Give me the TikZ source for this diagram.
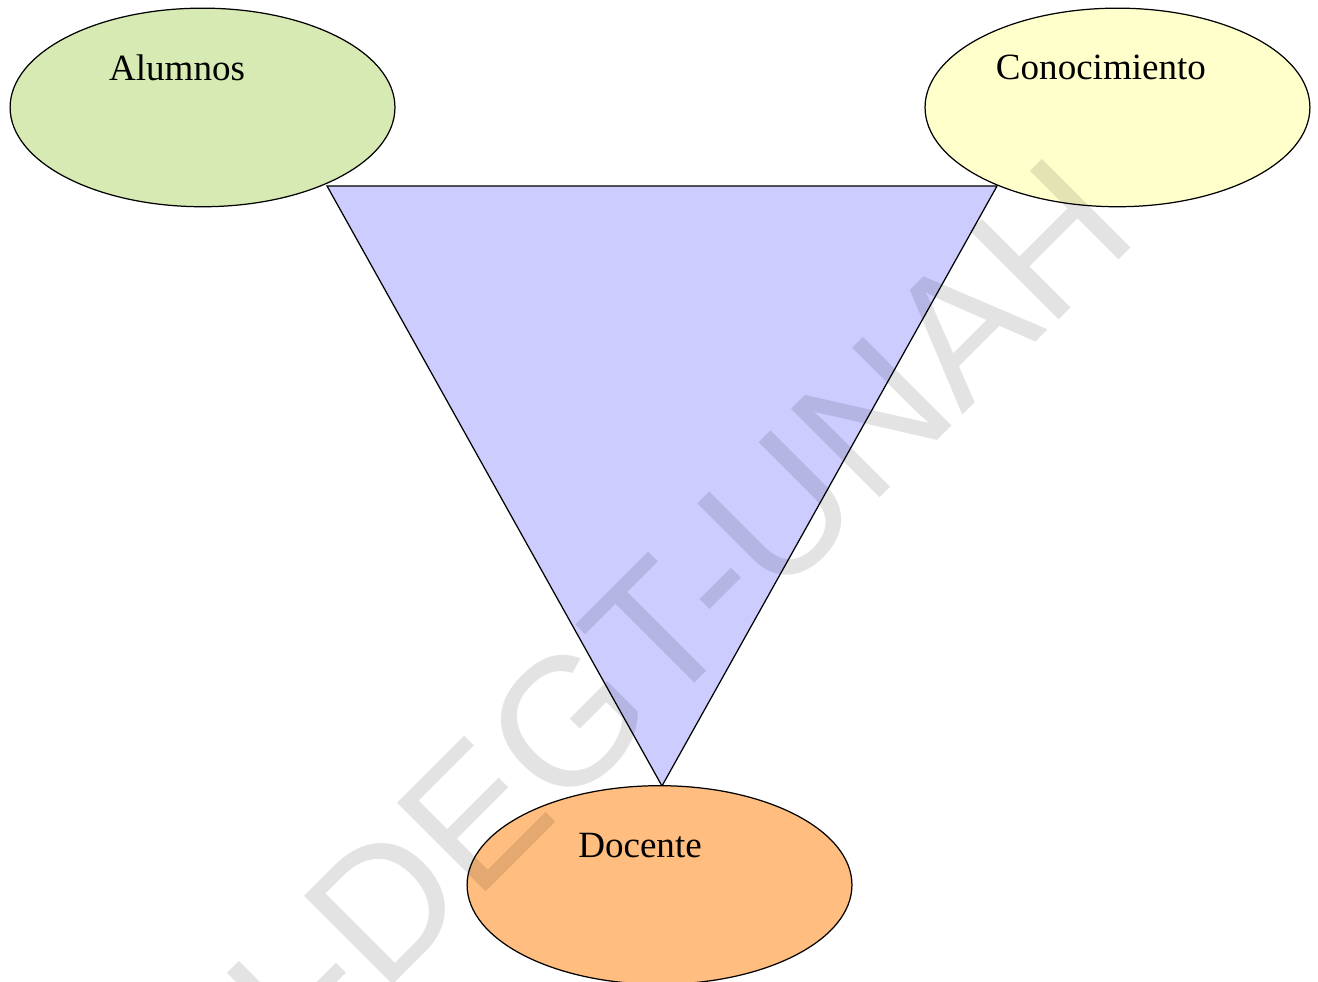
\documentclass[tikz,border=0pt]{standalone}
\usepackage{fontspec}
\setmainfont{Liberation Serif}
\newfontfamily\marcafont{Liberation Sans}
\usetikzlibrary{shapes.geometric}
\usetikzlibrary{positioning}
\definecolor{alumnoscolor}{HTML}{D8EAB4}
\definecolor{conocolor}{HTML}{FFFFCC}
\definecolor{docentecolor}{HTML}{FFBE7F}
\definecolor{triancolor}{HTML}{CCCCFF}

\begin{document}
\begin{tikzpicture}[
  elipse/.style={ellipse, draw=black, thin, minimum width=4.38cm, minimum height=2.26cm, inner sep=0pt},
  rotulo/.style={font=\fontsize{12}{14}\selectfont, inner sep=0pt},
  marcaagua/.style={text=black, text opacity=0.11, rotate=45, inner sep=0pt,
    font=\marcafont\fontsize{59}{62}\selectfont}
]
  \useasboundingbox (0,0) rectangle (15,11.176);
  % Triangle
  \coordinate (ti) at (3.722,9.059);
  \coordinate (td) at (11.347,9.059);
  \coordinate (tb) at (7.534,2.231);
  \draw[black, thin, fill=triancolor] (ti) -- (td) -- (tb) -- cycle;
  % Ellipses
  \node[elipse, fill=alumnoscolor] (alumnos) at (2.305,9.953) {};
  \node[elipse, fill=conocolor] (conocimiento) at (12.718,9.953) {};
  \node[elipse, fill=docentecolor] (docente) at (7.506,1.104) {};
  % Labels
  \node[rotulo] (alumnostxt) at ([xshift=-0.29cm, yshift=0.45cm]alumnos.center) {Alumnos};
  \node[rotulo] (conocimientotxt) at ([xshift=-0.188cm, yshift=0.45cm]conocimiento.center) {Conocimiento};
  \node[rotulo] (docentetxt) at ([xshift=-0.222cm, yshift=0.444cm]docente.center) {Docente};
  % Watermark (clipped at the page edge)
  \begin{scope}
    \clip (0,0) rectangle (15,11.176);
    \node[marcaagua] (marca) at (8.166,4.666) {DEGT-UNAH};
    \node[marcaagua, anchor=base east] (marcaprev) at (marca.base west) {UNAH-};
  \end{scope}
\end{tikzpicture}
\end{document}
